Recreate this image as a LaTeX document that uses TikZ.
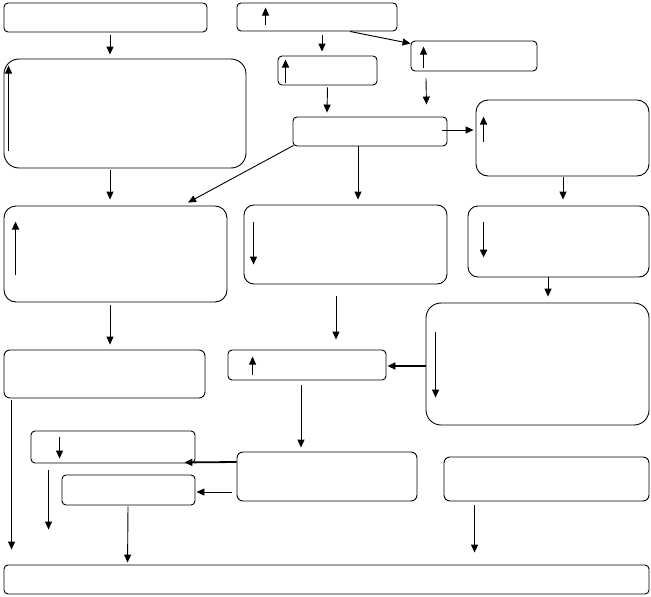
\documentclass[tikz,border=0pt]{standalone}
\usetikzlibrary{arrows.meta}

\begin{document}
\begin{tikzpicture}[x=1pt,y=-1pt,
    box/.style={draw, rounded corners=4pt, line width=0.9pt, inner sep=0pt},
    bigbox/.style={box, rounded corners=12pt},
    arr/.style={-{Triangle[length=8pt,width=7pt]}, line width=0.9pt},
    tharr/.style={arr, line width=1.8pt}]
    \useasboundingbox (0,0) rectangle (651,597);

    % Boxes (centres in pixel units, y running down)
    \node[box, minimum width=203, minimum height=29] (b1) at (105.5,17.5) {};
    \node[box, minimum width=160, minimum height=28] (b2) at (317,17) {};
    \node[box, minimum width=126, minimum height=30] (b3) at (474,56) {};
    \node[box, minimum width=99, minimum height=29] (b4) at (327.5,70.5) {};
    \node[bigbox, rounded corners=15pt, minimum width=242, minimum height=109] (b5) at (125,113.5) {};
    \node[box, minimum width=154, minimum height=29] (b6) at (370,131.5) {};
    \node[bigbox, minimum width=173, minimum height=76] (b7) at (562.5,138) {};
    \node[bigbox, minimum width=223, minimum height=96] (b8) at (115.5,254) {};
    \node[bigbox, rounded corners=10pt, minimum width=203, minimum height=79] (b9) at (345.5,244.5) {};
    \node[bigbox, rounded corners=10pt, minimum width=181, minimum height=71] (b10) at (558.5,241.5) {};
    \node[bigbox, rounded corners=15pt, minimum width=223, minimum height=122] (b11) at (537.5,364) {};
    \node[box, rounded corners=6pt, minimum width=201, minimum height=48] (b12) at (104.5,374) {};
    \node[box, minimum width=158, minimum height=30] (b13) at (307,365) {};
    \node[box, minimum width=164, minimum height=32] (b14) at (113,447) {};
    \node[box, rounded corners=6pt, minimum width=180, minimum height=49] (b15) at (327,476.5) {};
    \node[box, minimum width=133, minimum height=30] (b16) at (128.5,490) {};
    \node[box, rounded corners=6pt, minimum width=205, minimum height=44] (b17) at (546.5,479) {};
    \node[box, minimum width=645, minimum height=29] (b18) at (326.5,579.5) {};

    % Small arrows inside the boxes
    \draw[arr] ([shift={(29,22)}]b2.north west) -- ([shift={(29,5)}]b2.north west);
    \draw[arr] ([shift={(13,27)}]b3.north west) -- ([shift={(13,6)}]b3.north west);
    \draw[tharr] ([shift={(8,27)}]b4.north west) -- ([shift={(8,4)}]b4.north west);
    \draw[arr] ([shift={(5,92)}]b5.north west) -- ([shift={(5,7)}]b5.north west);
    \draw[tharr] ([shift={(8,42)}]b7.north west) -- ([shift={(8,17)}]b7.north west);
    \draw[tharr] ([shift={(12,69)}]b8.north west) -- ([shift={(12,16)}]b8.north west);
    \draw[arr] ([shift={(10,17)}]b9.north west) -- ([shift={(10,60)}]b9.north west);
    \draw[tharr] ([shift={(16,16)}]b10.north west) -- ([shift={(16,52)}]b10.north west);
    \draw[arr] ([shift={(10,29)}]b11.north west) -- ([shift={(10,95)}]b11.north west);
    \draw[arr] ([shift={(25,25)}]b13.north west) -- ([shift={(25,7)}]b13.north west);
    \draw[arr] ([shift={(29,6)}]b14.north west) -- ([shift={(29,28)}]b14.north west);

    % Connectors
    \draw[arr] ([shift={(4.5,3)}]b1.south) -- ([shift={(-15,-4)}]b5.north);
    \draw[arr] ([shift={(5,4)}]b2.south) -- ([shift={(-5.5,-4)}]b4.north);
    \draw[arr] ([shift={(33,0)}]b2.south) -- ([shift={(0,3)}]b3.north west);
    \draw[arr] ([shift={(-48,7)}]b3.south) -- ([shift={(-21,-12)}]b6.north east);
    \draw[arr] ([shift={(0,2)}]b4.south) -- ([shift={(-43,-4)}]b6.north);
    \draw[arr] ([shift={(-5,-1.5)}]b6.east) -- ([shift={(-2,-8)}]b7.west);
    \draw[arr] ([shift={(1,-1)}]b6.south west) -- ([shift={(72.5,-3)}]b8.north);
    \draw[arr] ([shift={(-12,0)}]b6.south) -- ([shift={(12.5,-5)}]b9.north);
    \draw[arr] ([shift={(-15,2)}]b5.south) -- ([shift={(-5.5,-6)}]b8.north);
    \draw[arr] ([shift={(0.5,1)}]b7.south) -- ([shift={(4.5,-6)}]b10.north);
    \draw[arr] ([shift={(-10.5,0)}]b10.south) -- ([shift={(10.5,-6)}]b11.north);
    \draw[arr] ([shift={(-5.5,3)}]b8.south) -- ([shift={(5.5,-5)}]b12.north);
    \draw[arr] ([shift={(-9.5,12)}]b9.south) -- ([shift={(29,-10)}]b13.north);
    \draw[tharr] ([shift={(0,2)}]b11.west) -- ([shift={(1,1)}]b13.east);
    \draw[arr] ([shift={(-6,5)}]b13.south) -- ([shift={(-26,-4)}]b15.north);
    \draw[tharr] ([shift={(0,-14.5)}]b15.west) -- ([shift={(-11,-1)}]b14.south east);
    \draw[arr] ([shift={(-5,15.5)}]b15.west) -- ([shift={(1,2)}]b16.east);
    \draw[arr] ([shift={(8,2)}]b12.south west) -- ([shift={(8,-15)}]b18.north west);
    \draw[arr] ([shift={(18,7)}]b14.south west) -- ([shift={(45,-35)}]b18.north west);
    \draw[arr] ([shift={(-0.5,1)}]b16.south) -- ([shift={(124,-2)}]b18.north west);
    \draw[arr] ([shift={(31,4)}]b17.south west) -- ([shift={(471,-12)}]b18.north west);
\end{tikzpicture}
\end{document}
